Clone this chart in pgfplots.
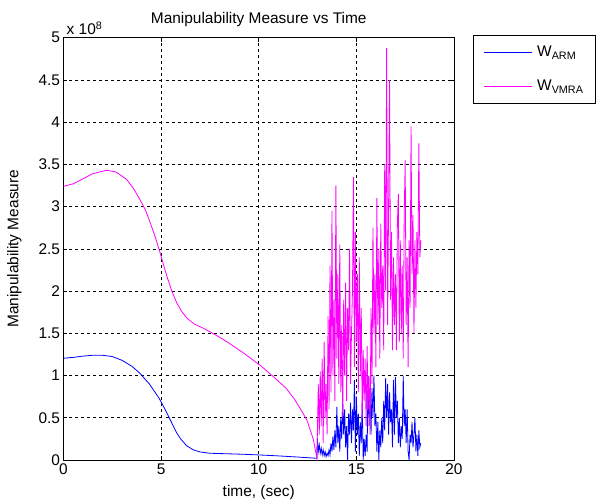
\documentclass[border=0pt]{standalone}
\usepackage{pgfplots}
\pgfplotsset{compat=1.18}
\usepackage{fontspec}
\setmainfont{Liberation Sans}
\definecolor{mblue}{RGB}{0,0,255}
\definecolor{mmag}{RGB}{255,0,255}
\newcommand{\ff}{\fontsize{15.5}{17}\selectfont}
\begin{document}
\begin{tikzpicture}
\begin{axis}[
 scale only axis, width=390.5bp, height=422.3bp,
 xmin=0, xmax=20, ymin=0, ymax=5,
 xtick={0,5,10,15,20}, ytick={0,0.5,...,5},
 grid=major,
 major grid style={black, line width=0.6bp, dash pattern=on 3bp off 3bp},
 tick align=inside, major tick length=4bp,
 axis line style={line width=0.8bp},
 every tick/.style={black, line width=0.6bp},
 /pgf/number format/assume math mode=true,
 yticklabel style={/pgf/number format/fixed, /pgf/number format/precision=1},
 ticklabel style={font=\ff},
 xlabel={time, (sec)}, ylabel={Manipulability Measure},
 label style={font=\ff},
 xlabel style={yshift=-4bp},
 ylabel style={yshift=10bp},
 title={Manipulability Measure vs Time},
 title style={font=\ff, yshift=1bp},
 legend style={at={(rel axis cs:1,1)}, anchor=north west, xshift=19bp, yshift=3bp,
   font=\ff, draw=black, line width=0.8bp, inner xsep=10bp, inner ysep=9bp,
   row sep=18bp, cells={anchor=west},
   /tikz/every odd column/.append style={column sep=3bp}},
 legend image code/.code={\draw[#1, line width=0.8bp] (0bp,0bp) -- (48bp,0bp);},
 legend cell align=left,
]
\addplot[mblue, line width=0.8bp] coordinates {
(0,1.205)(0.5,1.215)(1,1.23)(1.5,1.24)(2,1.24)(2.5,1.225)(3,1.18)(3.5,1.11)(3.9,1.03)(4.4,0.9)(4.9,0.73)(5.2,0.6)(5.5,0.46)(5.8,0.32)(6.0,0.25)(6.3,0.17)(6.65,0.12)(7.0,0.095)(7.5,0.08)(8.2,0.075)(9.2,0.068)(10.0,0.06)(10.9,0.05)(12.0,0.035)(12.98,0.02)
(13.0,0.26)(13.05,0.1)(13.1,0.18)(13.15,0.08)(13.2,0.14)(13.25,0.06)(13.3,0.12)(13.35,0.05)(13.4,0.1)(13.45,0.04)(13.5,0.08)(13.55,0.05)(13.6,0.12)(13.65,0.06)(13.7,0.2)(13.75,0.1)(13.8,0.28)(13.85,0.12)(13.9,0.35)(13.95,0.15)(14.0,0.63)(14.05,0.2)(14.1,0.4)(14.15,0.1)(14.2,0.5)(14.25,0.25)(14.3,0.72)(14.35,0.3)(14.4,0.6)(14.45,0.15)(14.5,0.4)(14.55,0.0)(14.6,0.55)(14.65,0.3)(14.7,0.68)(14.75,0.2)(14.8,0.6)(14.85,0.35)(14.9,0.95)(14.95,0.1)(15.0,0.75)(15.05,0.3)(15.1,0.55)(15.15,0.05)(15.2,0.45)(15.25,0.2)(15.3,0.7)(15.35,0.0)(15.4,0.25)(15.45,0.05)(15.5,0.3)(15.55,0.1)(15.6,1.0)(15.65,0.4)(15.7,0.8)(15.75,0.3)(15.8,0.85)(15.85,0.5)(15.9,1.0)(15.95,0.4)(16.0,0.55)(16.05,0.1)(16.1,0.45)(16.15,0.0)(16.2,0.35)(16.25,0.15)(16.3,0.5)(16.35,0.2)(16.4,0.7)(16.45,0.35)(16.5,0.97)(16.55,0.5)(16.6,0.9)(16.65,0.3)(16.7,0.8)(16.75,0.45)(16.8,0.6)(16.85,0.15)(16.9,0.95)(16.95,0.3)(17.0,0.98)(17.05,0.5)(17.1,0.7)(17.15,0.2)(17.2,0.5)(17.25,0.15)(17.3,0.4)(17.35,0.25)(17.4,1.0)(17.45,0.4)(17.5,0.6)(17.55,0.2)(17.6,0.6)(17.65,0.1)(17.7,0.0)(17.75,0.3)(17.8,0.2)(17.85,0.45)(17.9,0.15)(17.95,0.3)(18.0,0.5)(18.05,0.1)(18.1,0.3)(18.15,0.05)(18.2,0.35)(18.25,0.15)(18.3,0.2)
};
\addlegendentry{W\textsubscript{ARM}}
\addplot[mmag, line width=0.8bp] coordinates {
(0,3.24)(0.5,3.27)(1,3.33)(1.5,3.39)(2.2,3.43)(2.7,3.41)(3.24,3.32)(3.6,3.21)(3.92,3.08)(4.2,2.96)(4.44,2.81)(4.7,2.64)(4.95,2.45)(5.3,2.17)(5.55,2.0)(5.8,1.86)(6.05,1.76)(6.32,1.68)(6.7,1.61)(7.16,1.56)(7.8,1.48)(8.37,1.40)(9.2,1.27)(10.08,1.12)(10.93,0.95)(11.4,0.85)(11.8,0.73)(12.2,0.58)(12.47,0.47)(12.8,0.24)(12.98,0.02)
(13.05,0.9)(13.1,0.3)(13.15,1.05)(13.2,0.4)(13.25,1.2)(13.3,0.2)(13.35,1.4)(13.4,0.5)(13.45,0.9)(13.5,0.3)(13.55,1.7)(13.6,0.6)(13.65,2.3)(13.7,0.8)(13.75,2.95)(13.8,1.0)(13.85,1.9)(13.9,0.7)(13.95,3.25)(14.0,1.2)(14.05,2.2)(14.1,0.9)(14.15,2.55)(14.2,0.8)(14.25,1.6)(14.3,0.5)(14.35,1.9)(14.4,1.0)(14.45,2.1)(14.5,0.7)(14.55,1.8)(14.6,1.3)(14.65,2.5)(14.7,0.9)(14.75,1.5)(14.8,2.0)(14.85,3.35)(14.9,1.1)(14.95,2.7)(15.0,1.4)(15.05,2.2)(15.1,0.8)(15.15,2.4)(15.2,1.0)(15.25,1.8)(15.3,0.5)(15.35,1.3)(15.4,0.7)(15.45,1.2)(15.5,0.4)(15.55,1.35)(15.6,0.6)(15.65,1.0)(15.7,0.3)(15.75,1.8)(15.8,0.9)(15.85,2.75)(15.9,1.5)(15.95,2.2)(16.0,1.1)(16.05,3.1)(16.1,1.6)(16.15,2.5)(16.2,1.2)(16.25,2.8)(16.3,1.8)(16.35,2.3)(16.4,1.3)(16.45,3.5)(16.5,2.0)(16.55,4.88)(16.6,1.6)(16.65,3.0)(16.7,4.5)(16.75,1.9)(16.8,2.7)(16.85,1.3)(16.9,2.4)(16.95,1.6)(17.0,2.2)(17.05,1.3)(17.1,2.8)(17.15,3.15)(17.2,1.4)(17.25,2.6)(17.3,1.5)(17.35,2.3)(17.4,1.2)(17.45,2.9)(17.5,3.55)(17.55,1.6)(17.6,2.4)(17.65,1.1)(17.7,2.6)(17.75,1.8)(17.8,3.95)(17.85,2.2)(17.9,2.9)(17.95,1.5)(18.0,2.6)(18.05,1.8)(18.1,2.7)(18.15,2.2)(18.2,3.75)(18.25,2.4)(18.3,2.6)
};
\addlegendentry{W\textsubscript{VMRA}}
\coordinate (sw) at (rel axis cs:0,0);
\coordinate (ne) at (rel axis cs:1,1);
\coordinate (nw) at (rel axis cs:0,1);
\end{axis}
\node[anchor=south west, font=\ff, inner sep=0pt] at ([xshift=3bp,yshift=3bp]nw) {x 10\textsuperscript{8}};
\pgfresetboundingbox
\path ([xshift=-63.5bp,yshift=-41bp]sw) rectangle ([xshift=145bp,yshift=37.7bp]ne);
\end{tikzpicture}
\end{document}
